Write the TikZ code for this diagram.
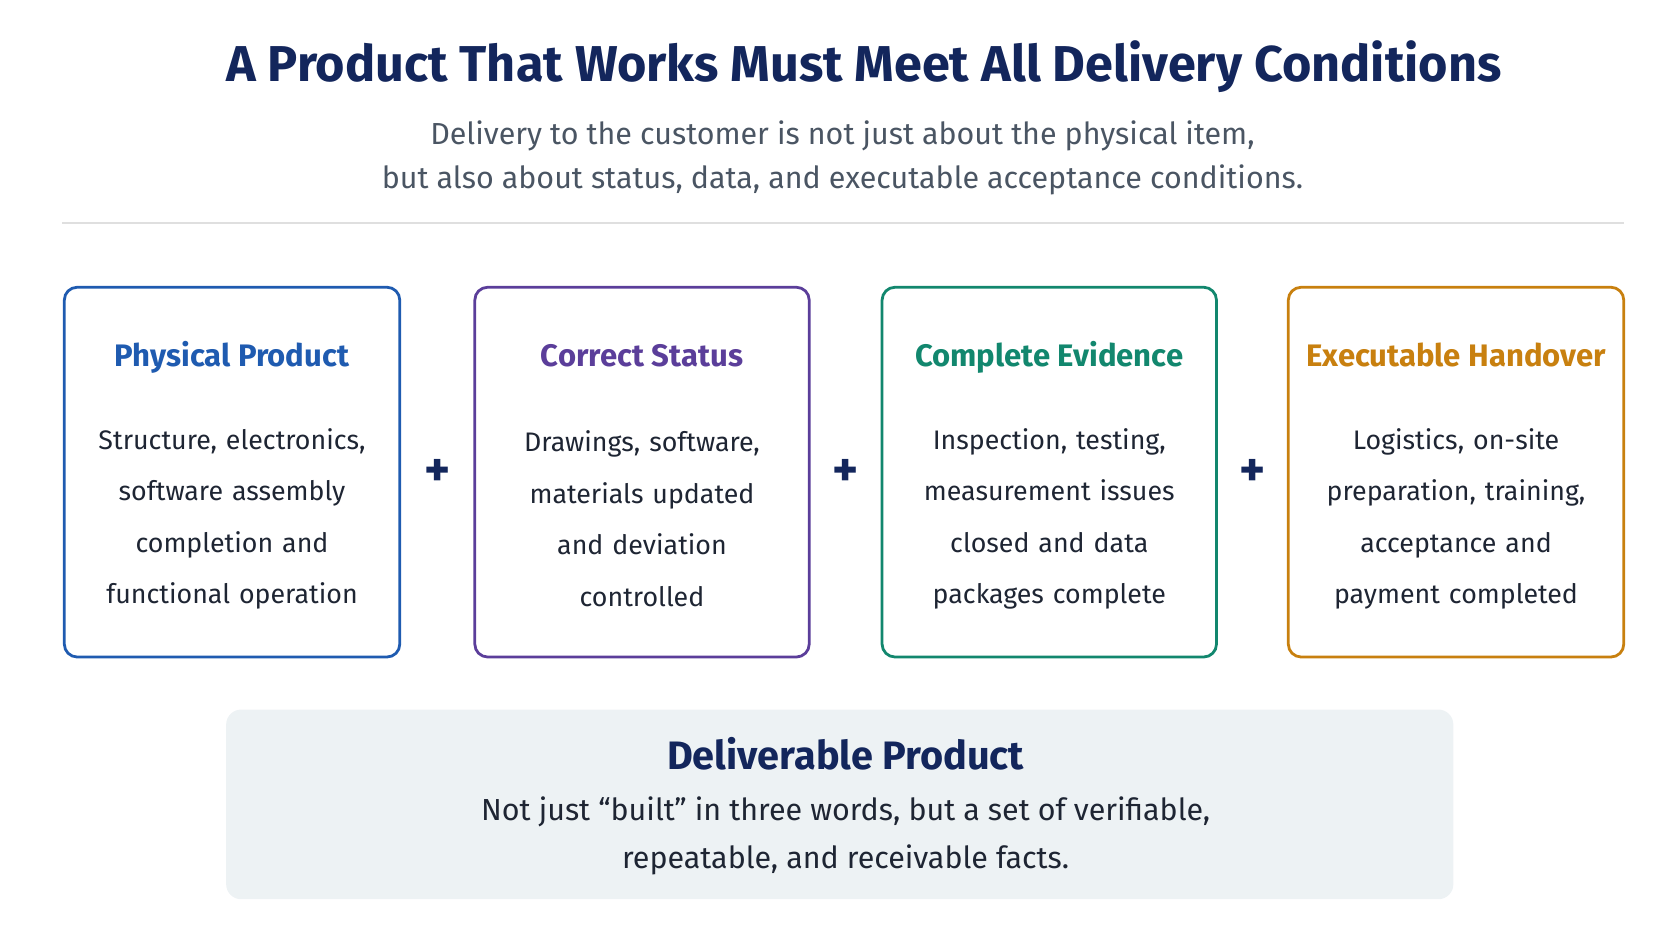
\documentclass[tikz,border=0pt]{standalone}
\usepackage{fontspec}
\setmainfont{Fira Sans}
\definecolor{navy}{HTML}{13265C}
\definecolor{cblue}{HTML}{1F5BB0}
\definecolor{cpurple}{HTML}{5B3E9A}
\definecolor{cteal}{HTML}{12876E}
\definecolor{corange}{HTML}{C8800F}
\definecolor{body}{HTML}{1E2533}
\definecolor{sub}{HTML}{4A5563}
\definecolor{panel}{HTML}{EDF2F4}
\begin{document}
\begin{tikzpicture}[x=0.5pt,y=-0.5pt,
  card/.style={draw=#1,line width=1.3pt,rounded corners=6pt,fill=white},
  ctitle/.style={text=#1,font=\fontsize{14.5}{18}\selectfont\bfseries,anchor=base},
  cbody/.style={text=body,font=\fontsize{12.5}{24}\selectfont,align=center,text width=150pt},
  plus/.style={text=navy,font=\fontsize{23}{23}\selectfont\bfseries}]
\useasboundingbox (0,0) rectangle (1560,878);
\node[text=navy,font=\fontsize{23.5}{30}\selectfont\bfseries] (title) at (806,62) {A Product That Works Must Meet All Delivery Conditions};
\node[text=sub,font=\fontsize{14.2}{20.5}\selectfont,align=center] (subt) at (786,147) {Delivery to the customer is not just about the physical item,\\but also about status, data, and executable acceptance conditions.};
\draw[draw=gray!25,line width=0.8pt] (58,208) -- (1515,208);
\foreach \n/\xa/\xb/\c/\t/\b in {
 a/60/373/cblue/Physical Product/{Structure, electronics,\\software assembly\\completion and\\functional operation},
 b/443/755/cpurple/Correct Status/{Drawings, software,\\materials updated\\and deviation\\controlled},
 c/823/1135/cteal/Complete Evidence/{Inspection, testing,\\measurement issues\\closed and data\\packages complete},
 d/1202/1515/corange/Executable Handover/{Logistics, on-site\\preparation, training,\\acceptance and\\payment completed}}{
  \draw[card=\c] (\xa,268) rectangle (\xb,613);
  \node[ctitle=\c] (t\n) at ({(\xa+\xb)/2},342) {\t};
  \node[cbody] (b\n) at ({(\xa+\xb)/2},484) {\b};
}
\node[plus] (p1) at (408,441) {+};
\node[plus] (p2) at (789,441) {+};
\node[plus] (p3) at (1169,441) {+};
\fill[panel,rounded corners=7pt] (211,662) rectangle (1356,839);
\node[text=navy,font=\fontsize{18.5}{22}\selectfont\bfseries] (dp) at (789,703) {Deliverable Product};
\node[text=body,font=\fontsize{14.2}{22.5}\selectfont,align=center] (dt) at (789,780) {Not just “built” in three words, but a set of verifiable,\\repeatable, and receivable facts.};
\end{tikzpicture}
\end{document}
